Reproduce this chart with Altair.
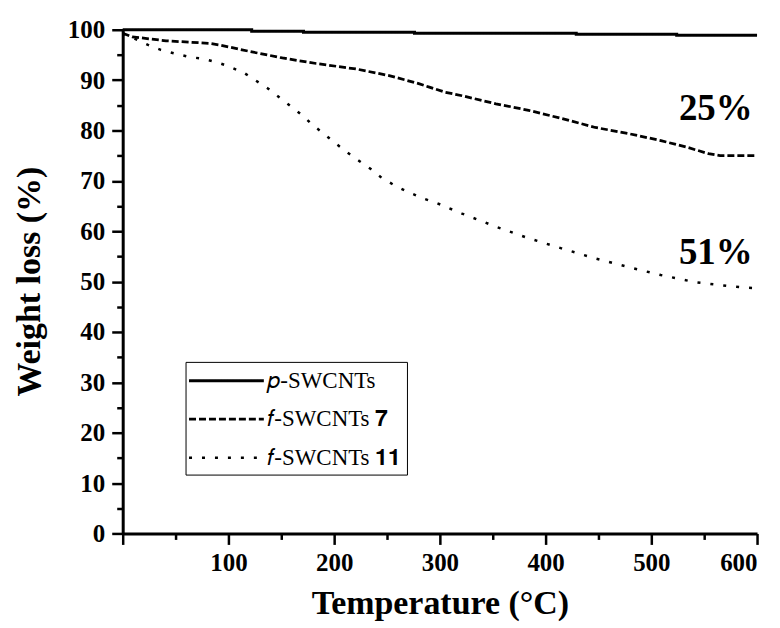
import altair as alt
import pandas as pd

# ---- data ----
series_names = ["𝑝-SWCNTs", "𝑓-SWCNTs 𝟕", "𝑓-SWCNTs 𝟏𝟏"]

p_T = [0, 122, 122, 171, 171, 276, 276, 429, 429, 524, 524, 600]
p_W = [100, 100, 99.7, 99.7, 99.5, 99.5, 99.3, 99.3, 99.1, 99.1, 98.9, 98.9]

f7_T = [0, 9, 41, 82, 91, 120, 151, 183, 221, 252, 280, 290, 305, 321, 353,
        384, 415, 447, 478, 509, 535, 554, 565, 600]
f7_W = [99.3, 98.6, 97.8, 97.3, 97.0, 95.7, 94.4, 93.3, 92.2, 90.9, 89.3, 88.6,
        87.6, 86.9, 85.3, 84.0, 82.4, 80.6, 79.4, 78.0, 76.6, 75.4, 75.0, 75.0]

f11_T = [0, 24, 36, 49, 63, 77, 90, 103, 115, 126, 137, 148, 159, 170, 179, 190,
         201, 212, 224, 235, 245, 258, 271, 283, 297, 321, 353, 384, 415, 447,
         478, 509, 541, 573, 589, 600]
f11_W = [99.3, 97.0, 96.0, 95.3, 94.6, 94.2, 93.5, 92.5, 91.4, 89.9, 88.4, 86.6,
         84.8, 83.0, 81.2, 79.4, 77.5, 75.7, 73.9, 72.3, 70.6, 69.0, 67.7, 66.6,
         65.6, 63.5, 60.9, 58.6, 56.6, 54.6, 52.9, 51.3, 49.9, 49.1, 48.8, 48.7]

annot_text = ["25%", "51%"]
annot_T = [561, 561]
annot_W = [84.2, 55.6]

x_major = [0, 100, 200, 300, 400, 500, 600]
x_minor = [50, 150, 250, 350, 450, 550]
y_major = list(range(0, 101, 10))
y_minor = list(range(5, 100, 10))

rows = []
for name, Ts, Ws in zip(series_names, [p_T, f7_T, f11_T], [p_W, f7_W, f11_W]):
    for i, (t, w) in enumerate(zip(Ts, Ws)):
        rows.append({"series": name, "T": t, "W": w, "order": i})
df = pd.DataFrame(rows)
annot_df = pd.DataFrame({"text": annot_text, "T": annot_T, "W": annot_W})

FONT = "Liberation Serif"
x_scale = alt.Scale(domain=[0, 600], nice=False, zero=False)
y_scale = alt.Scale(domain=[0, 100], nice=False, zero=False)

axis_common = dict(
    grid=False, domainColor="black", domainWidth=3, tickColor="black",
    tickWidth=2.5, tickSize=11, labelFont=FONT, labelFontWeight="bold",
    labelFontSize=25, labelColor="black", titleFont=FONT,
    titleFontWeight="bold", titleFontSize=34, titleColor="black",
)

lines = alt.Chart(df).mark_line(color="black", strokeCap="butt").encode(
    x=alt.X("T:Q", scale=x_scale, axis=alt.Axis(
        orient="bottom", values=x_major,
        labelExpr="datum.value == 0 ? '' : datum.label",
        title="Temperature (°C)", labelPadding=6, titleY=80,
        titleBaseline="alphabetic", **axis_common)),
    y=alt.Y("W:Q", scale=y_scale, axis=alt.Axis(
        orient="left", values=y_major, title="Weight loss (%)", labelPadding=7,
        titleX=-93, titleY=252, titleAngle=270, titleAlign="center",
        titleBaseline="middle", **axis_common)),
    strokeDash=alt.StrokeDash("series:N", scale=alt.Scale(
        domain=series_names, range=[[1, 0], [7, 3], [3, 10]]),
        legend=alt.Legend(
            title=None, orient="none", legendX=63, legendY=333,
            symbolType="M-3,0L3,0", symbolSize=625, symbolOffset=22,
            symbolStrokeWidth=2.5, symbolStrokeColor="black",
            symbolFillColor="transparent",
            labelFont=FONT, labelFontSize=23, labelColor="black",
            labelOffset=27, rowPadding=12.5, padding=5,
            strokeColor="black", fillColor="white", labelLimit=400)),
    strokeWidth=alt.StrokeWidth("series:N", scale=alt.Scale(
        domain=series_names, range=[3, 2.5, 3]), legend=None),
    order="order:Q",
)

minor = alt.Chart(df).mark_point(opacity=0).encode(
    x=alt.X("T:Q", scale=x_scale, axis=alt.Axis(
        orient="bottom", values=x_minor, labels=False, domain=False,
        grid=False, title=None, tickSize=6, tickWidth=2.5, tickColor="black")),
    y=alt.Y("W:Q", scale=y_scale, axis=alt.Axis(
        orient="left", values=y_minor, labels=False, domain=False,
        grid=False, title=None, tickSize=6, tickWidth=2.5, tickColor="black")),
)

annot = alt.Chart(annot_df).mark_text(
    font=FONT, fontWeight="bold", fontSize=37, color="black",
    align="center", baseline="middle",
).encode(
    x=alt.X("T:Q", scale=x_scale, axis=None),
    y=alt.Y("W:Q", scale=y_scale, axis=None),
    text="text:N",
)

chart = alt.layer(lines, minor, annot).resolve_axis(
    x="independent", y="independent"
).properties(
    width=636, height=505,
    autosize=alt.AutoSizeParams(type="none"),
    padding={"left": 115, "top": 21, "right": 15, "bottom": 92},
).configure_view(stroke=None)

chart.save("out.html", embed_options={"renderer": "svg", "actions": False})
